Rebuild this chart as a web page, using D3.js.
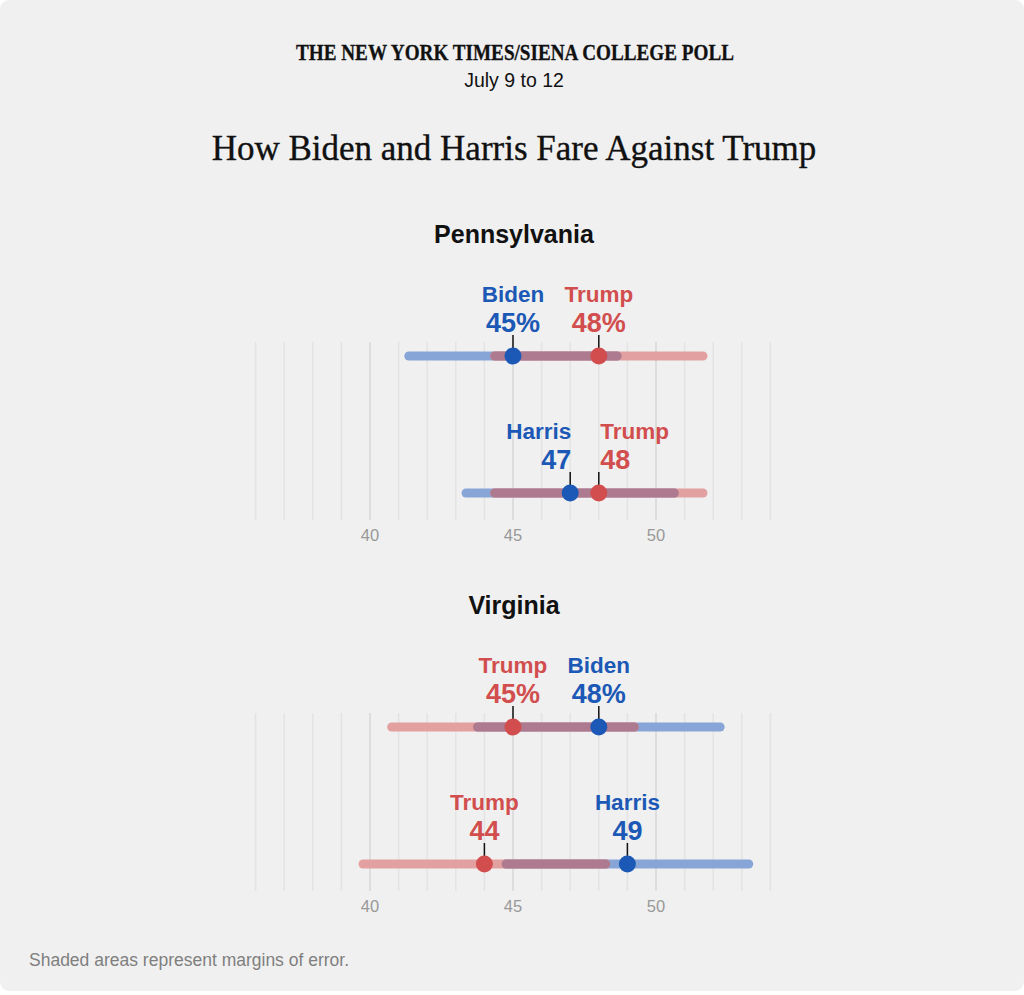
<!DOCTYPE html>
<html>
<head>
<meta charset="utf-8">
<script src="https://cdn.jsdelivr.net/npm/d3@7"></script>
<style>
  html, body { margin: 0; padding: 0; background: #ffffff; }
  svg { display: block; }
</style>
</head>
<body>
<div id="chart"></div>
<script>
// ---------------- data ----------------
const headerText = "THE NEW YORK TIMES/SIENA COLLEGE POLL";
const dateText = "July 9 to 12";
const titleText = "How Biden and Harris Fare Against Trump";
const noteText = "Shaded areas represent margins of error.";

const states = ["Pennsylvania", "Virginia"];
const demNames = ["Biden", "Harris"];
const repName = "Trump";
// rows: [Biden matchup, Harris matchup]
const demValues = [[45, 47], [48, 49]];
const repValues = [[48, 48], [45, 44]];
const marginOfError = [3.8, 4.4];
const axisTicks = [40, 45, 50];
const gridDomain = [36, 54];

// ---------------- styles ----------------
const W = 1024, H = 995;
const colors = {
  bg: "#f0f0f0",
  blue: "#1c58b5", red: "#d24e4e",
  blueLight: "#87a5d6", redLight: "#e3a0a0", overlap: "#ae7a8f",
  grid: "#e3e3e3", gridMajor: "#d7d7d7", axisText: "#999999", note: "#7f7f7f"
};
const sans = "'Liberation Sans', Arial, Helvetica, sans-serif";
const serif = "'Liberation Serif', 'Times New Roman', serif";

const svg = d3.select("#chart").append("svg")
  .attr("width", W).attr("height", H);

svg.append("rect").attr("x", 0).attr("y", 0)
  .attr("width", W).attr("height", 991).attr("rx", 9)
  .attr("fill", colors.bg);

svg.append("text").attr("x", 515).attr("y", 59.5)
  .attr("text-anchor", "middle")
  .attr("font-family", serif).attr("font-weight", "bold")
  .attr("font-size", 22.5)
  .attr("textLength", 438).attr("lengthAdjust", "spacingAndGlyphs")
  .attr("stroke", "#111").attr("stroke-width", 0.3)
  .attr("fill", "#111").text(headerText);

svg.append("text").attr("x", 514).attr("y", 87)
  .attr("text-anchor", "middle")
  .attr("font-family", sans).attr("font-size", 19.5)
  .attr("fill", "#111").text(dateText);

svg.append("text").attr("x", 514).attr("y", 159.5)
  .attr("text-anchor", "middle")
  .attr("font-family", serif).attr("font-size", 35)
  .attr("stroke", "#111").attr("stroke-width", 0.35)
  .attr("fill", "#111").text(titleText);

const x = d3.scaleLinear().domain(gridDomain).range([255.6, 770.4]);
const gridVals = d3.range(gridDomain[0], gridDomain[1] + 1);

const panelTops = [342, 713];

states.forEach((st, si) => {
  const top = panelTops[si];
  const g = svg.append("g");

  g.append("text").attr("x", 514).attr("y", top - 99)
    .attr("text-anchor", "middle")
    .attr("font-family", sans).attr("font-weight", "bold")
    .attr("font-size", 25).attr("fill", "#111").text(st);

  // grid
  g.selectAll("line.grid").data(gridVals).join("line")
    .attr("class", "grid")
    .attr("x1", d => x(d)).attr("x2", d => x(d))
    .attr("y1", top).attr("y2", top + 178)
    .attr("stroke", d => d % 5 === 0 ? colors.gridMajor : colors.grid)
    .attr("stroke-width", 1.5);

  // axis labels
  g.selectAll("text.tick").data(axisTicks).join("text")
    .attr("class", "tick")
    .attr("x", d => x(d)).attr("y", top + 199)
    .attr("text-anchor", "middle")
    .attr("font-family", sans).attr("font-size", 16.5)
    .attr("fill", colors.axisText).text(d => d);

  const moe = marginOfError[si];
  const rowYs = [top + 14, top + 151];
  const barH = 9;

  demNames.forEach((dn, ri) => {
    const y = rowYs[ri];
    const dv = demValues[si][ri], rv = repValues[si][ri];
    const dLo = dv - moe, dHi = dv + moe, rLo = rv - moe, rHi = rv + moe;
    const bars = [
      { lo: dLo, hi: dHi, c: colors.blueLight },
      { lo: rLo, hi: rHi, c: colors.redLight },
      { lo: Math.max(dLo, rLo), hi: Math.min(dHi, rHi), c: colors.overlap }
    ];
    g.selectAll(null).data(bars).join("rect")
      .attr("x", d => x(d.lo)).attr("width", d => x(d.hi) - x(d.lo))
      .attr("y", y - barH / 2).attr("height", barH)
      .attr("rx", barH / 2).attr("fill", d => d.c);

    const suffix = ri === 0 ? "%" : "";
    const close = Math.abs(dv - rv) < 2;
    const cands = [
      { name: dn, v: dv, c: colors.blue, other: rv },
      { name: repName, v: rv, c: colors.red, other: dv }
    ];
    cands.forEach(cd => {
      let anchor = "middle", dx = 0;
      if (close) {
        if (cd.v < cd.other) { anchor = "end"; dx = 1; }
        else { anchor = "start"; dx = 1.5; }
      }
      const cx = x(cd.v);
      g.append("line").attr("x1", cx).attr("x2", cx)
        .attr("y1", y - 21).attr("y2", y)
        .attr("stroke", "#111").attr("stroke-width", 1.5);
      g.append("text").attr("x", cx + dx).attr("y", y - 54)
        .attr("text-anchor", anchor)
        .attr("font-family", sans).attr("font-weight", "bold")
        .attr("font-size", 22.5).attr("fill", cd.c).text(cd.name);
      g.append("text").attr("x", cx + dx).attr("y", y - 24.5)
        .attr("text-anchor", anchor)
        .attr("font-family", sans).attr("font-weight", "bold")
        .attr("font-size", 27).attr("fill", cd.c).text(cd.v + suffix);
    });
    cands.forEach(cd => {
      g.append("circle").attr("cx", x(cd.v)).attr("cy", y)
        .attr("r", 8.5).attr("fill", cd.c);
    });
  });
});

svg.append("text").attr("x", 29).attr("y", 966)
  .attr("font-family", sans).attr("font-size", 17.5)
  .attr("fill", colors.note).text(noteText);
</script>
</body>
</html>
